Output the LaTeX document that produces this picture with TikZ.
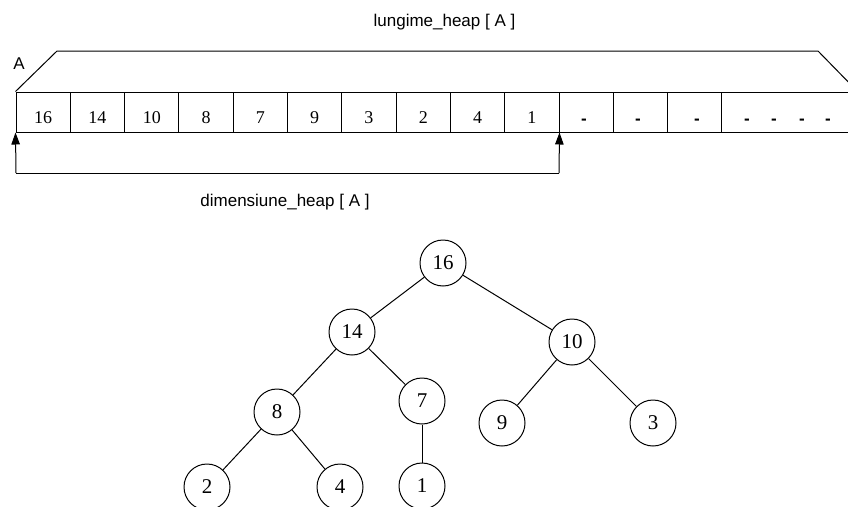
\documentclass[tikz,border=0pt]{standalone}
\usepackage{fontspec}
\setmainfont{Liberation Serif}
\newfontfamily\labelfont{Liberation Sans}
\usetikzlibrary{arrows.meta}
\begin{document}
\begin{tikzpicture}[x=1pt,y=-1pt,
  cell/.style={draw,line width=1pt,rectangle,minimum width=54.3pt,minimum height=40pt,
    inner sep=1pt,text height=22.5pt,text depth=0pt,font=\fontsize{18}{18}\selectfont},
  gap/.style={font=\labelfont\bfseries\fontsize{17}{17}\selectfont,anchor=base,inner sep=0pt},
  key/.style={circle,draw,line width=1pt,minimum size=46pt,inner sep=0pt,
    font=\fontsize{21}{21}\selectfont},
  caption/.style={font=\labelfont\fontsize{17}{17}\selectfont,anchor=base,inner sep=0pt},
  edge/.style={line width=1pt},
  ptr/.style={line width=1pt,-{Triangle[length=12pt,width=8.5pt]}}]
\useasboundingbox (0,0) rectangle (848,506);
\clip (0,0) rectangle (848,506);

% the array: ten stored keys, three free slots, then the open-ended rest
\foreach \v [count=\i from 0] in {16,14,10,8,7,9,3,2,4,1,,,}
  \node[cell] (c\i) at ({16+54.3*(\i+0.5)},112) {\v};
\node[cell,minimum width=140pt] (c13) at ({16+54.3*13+70},112) {};
\foreach \x [count=\i] in {584,638,697,747,774,802,828}
  \node[gap] (d\i) at (\x,124) {-};

% slanted lid over the whole array
\draw[line width=1pt] (c0.north west) -- (57,51) -- (818,51) -- (860,94);
\node[font=\labelfont\fontsize{17}{17}\selectfont] (lblA) at (19,63.5) {A};
\node[caption] (len) at (444.5,27) {lungime\_heap [ A ]};

% heap-size bracket
\coordinate (p0) at (16,173);
\coordinate (p1) at (559,173);
\draw[edge] (p0) -- (p1);
\draw[ptr] (p0) -- (c0.south west);
\draw[ptr] (p1) -- (c9.south east);
\node[caption] (dim) at (285,206) {dimensiune\_heap [ A ]};

% the same heap as a binary tree
\node[key] (t16) at (443,263) {16};
\node[key] (t14) at (352,332) {14};
\node[key] (t10) at (572,342) {10};
\node[key] (t8) at (277,412) {8};
\node[key] (t7) at (422,401) {7};
\node[key] (t9) at (502,423) {9};
\node[key] (t3) at (653,423) {3};
\node[key] (t2) at (207,487) {2};
\node[key] (t4) at (340,487) {4};
\node[key] (t1) at (422,486) {1};
\foreach \a/\b in {t16/t14,t16/t10,t14/t8,t14/t7,t10/t9,t10/t3,t8/t2,t8/t4,t7/t1}
  \draw[edge] (\a) -- (\b);
\end{tikzpicture}
\end{document}
